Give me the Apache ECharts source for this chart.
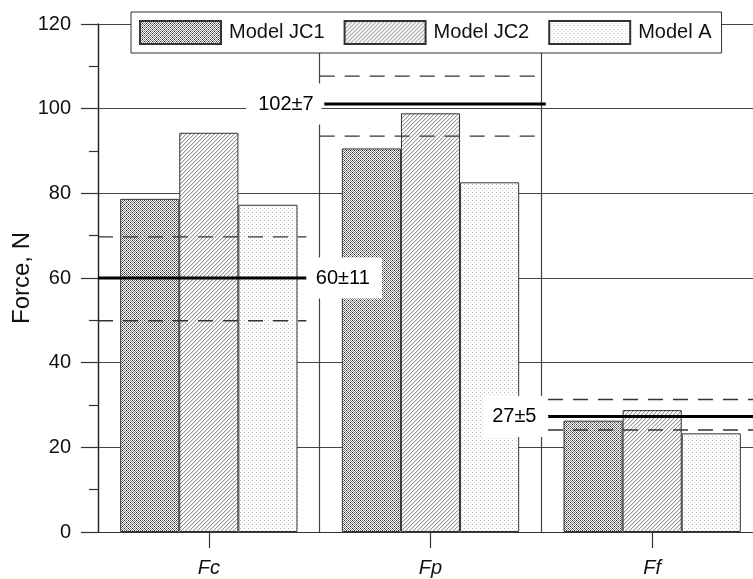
<!DOCTYPE html>
<html>
<head>
<meta charset="utf-8">
<script src="https://cdn.jsdelivr.net/npm/echarts@6/dist/echarts.min.js"></script>
<style>
html,body{margin:0;padding:0;background:#fff;overflow:hidden;width:753px;height:579px;}
#chart{width:790px;height:579px;}
</style>
</head>
<body>
<div id="chart"></div>
<script>
// ---- data ----
const categories = ['Fc', 'Fp', 'Ff'];
const seriesNames = ['Model JC1', 'Model JC2', 'Model A'];
const jc1Values = [78.7, 90.6, 26.3];
const jc2Values = [94.3, 98.9, 28.8];
const modelAValues = [77.3, 82.6, 23.3];
const yMin = 0, yMax = 120, yStep = 20;
const refMean = [60, 101.1, 27.3];
const refUpper = [69.7, 107.7, 31.3];
const refLower = [49.9, 93.5, 24.1];
const refLabels = ['60\u00b111', '102\u00b17', '27\u00b15'];
const solidSpan = [[0, 0.94], [1.02, 2.02], [2.03, 3]];
const dashSpan = [[0, 0.94], [1.0, 1.97], [2.03, 3]];

// ---- patterns ----
function tile(n, draw) {
  const c = document.createElement('canvas');
  c.width = n; c.height = n;
  const g = c.getContext('2d');
  g.fillStyle = '#fff'; g.fillRect(0, 0, n, n);
  draw(g);
  return c;
}
function px(g, x, y, col) { g.fillStyle = col; g.fillRect(x, y, 1, 1); }
const patJC1 = tile(4, g => {
  const D = '#222', G = '#808080';
  px(g,0,0,D); px(g,2,0,G);
  px(g,1,1,G); px(g,3,1,G);
  px(g,0,2,G); px(g,2,2,D);
  px(g,1,3,G); px(g,3,3,G);
});
const patJC2 = tile(4, g => {
  for (let x = 0; x < 4; x++) for (let y = 0; y < 4; y++) {
    if ((x + y) % 4 === 3) px(g, x, y, '#999');
    else if ((x + y) % 4 === 0) px(g, x, y, '#dcdcdc');
  }
});
const patA = tile(4, g => {
  px(g,0,0,'#b4b4b4'); px(g,2,2,'#d4d4d4');
});

const fontFam = "'Liberation Sans', Arial, sans-serif";
const barStyle = (pat) => ({
  color: { image: pat, repeat: 'repeat' },
  borderColor: '#333', borderWidth: 1
});

const series = [];
[[jc1Values, patJC1], [jc2Values, patJC2], [modelAValues, patA]].forEach((p, i) => {
  series.push({
    name: seriesNames[i], type: 'bar', data: p[0],
    barGap: '0%', barCategoryGap: '20%',
    itemStyle: barStyle(p[1]), z: 2, silent: true
  });
});

function seg(span, y, style) {
  return {
    type: 'line', xAxisIndex: 1, yAxisIndex: 0, symbol: 'none', silent: true,
    data: [[span[0], y], [span[1], y]], lineStyle: style, z: 3, animation: false
  };
}
for (let i = 0; i < 3; i++) {
  series.push(seg(solidSpan[i], refMean[i], { color: '#000', width: 3, type: 'solid' }));
  series.push(seg(dashSpan[i], refUpper[i], { color: '#333', width: 1.3, type: [15, 10] }));
  series.push(seg(dashSpan[i], refLower[i], { color: '#333', width: 1.3, type: [15, 10] }));
}
// labels
const labelPos = ['right', 'left', 'left'];
const labelAnchor = [solidSpan[0][1], solidSpan[1][0], solidSpan[2][0]];
const labelPad = [[11, 12, 10, 9], [11, 8, 10, 12], [11, 9, 10, 8]];
series.push({
  type: 'scatter', xAxisIndex: 1, yAxisIndex: 0, symbol: 'rect', symbolSize: 1,
  itemStyle: { color: '#fff', opacity: 1 }, z: 5, silent: true, animation: false,
  data: refLabels.map((t, i) => ({
    value: [labelAnchor[i], refMean[i]],
    label: {
      show: true, formatter: t, position: labelPos[i], distance: i === 0 ? 0 : 2,
      backgroundColor: '#fff', padding: labelPad[i], opacity: 1,
      color: '#000', fontSize: 20, fontFamily: fontFam
    }
  }))
});

const chart = echarts.init(document.getElementById('chart'), null, { renderer: 'canvas' });
chart.setOption({
  animation: false,
  backgroundColor: '#fff',
  textStyle: { fontFamily: fontFam },
  grid: { left: 98, top: 24, width: 665, height: 508, containLabel: false, outerBoundsMode: 'none' },
  legend: {
    data: seriesNames, left: 131, top: 12, orient: 'horizontal',
    padding: [8, 10, 8, 8], itemGap: 19, itemWidth: 81, itemHeight: 23,
    icon: 'rect', selectedMode: false,
    backgroundColor: '#fff', borderColor: '#333', borderWidth: 1,
    textStyle: { fontSize: 20, color: '#111', fontFamily: fontFam, padding: [0, 0, 0, 3] }
  },
  xAxis: [{
    type: 'category', data: categories, boundaryGap: true,
    axisLine: { lineStyle: { color: '#333', width: 1.2 } },
    axisTick: { show: true, alignWithLabel: true, length: 16, lineStyle: { color: '#333', width: 1.2 } },
    splitLine: { show: true, lineStyle: { color: '#444', width: 1.2 } },
    axisLabel: { fontSize: 20, fontStyle: 'italic', color: '#111', margin: 26, fontFamily: fontFam }
  }, {
    type: 'value', min: 0, max: 3, show: false
  }],
  yAxis: [{
    type: 'value', min: yMin, max: yMax, interval: yStep,
    name: 'Force, N', nameLocation: 'middle', nameGap: 64, nameMoveOverlap: false,
    nameTextStyle: { fontSize: 24, color: '#111', fontFamily: fontFam },
    axisLine: { show: true, lineStyle: { color: '#222', width: 1.3 } },
    axisTick: { show: true, length: 17, lineStyle: { color: '#333', width: 1.2 } },
    minorTick: { show: true, splitNumber: 2, length: 9, lineStyle: { color: '#333', width: 1.2 } },
    splitLine: { show: true, lineStyle: { color: '#444', width: 1.2 } },
    axisLabel: { fontSize: 20, color: '#111', margin: 27, fontFamily: fontFam }
  }],
  series: series
});
</script>
</body>
</html>
